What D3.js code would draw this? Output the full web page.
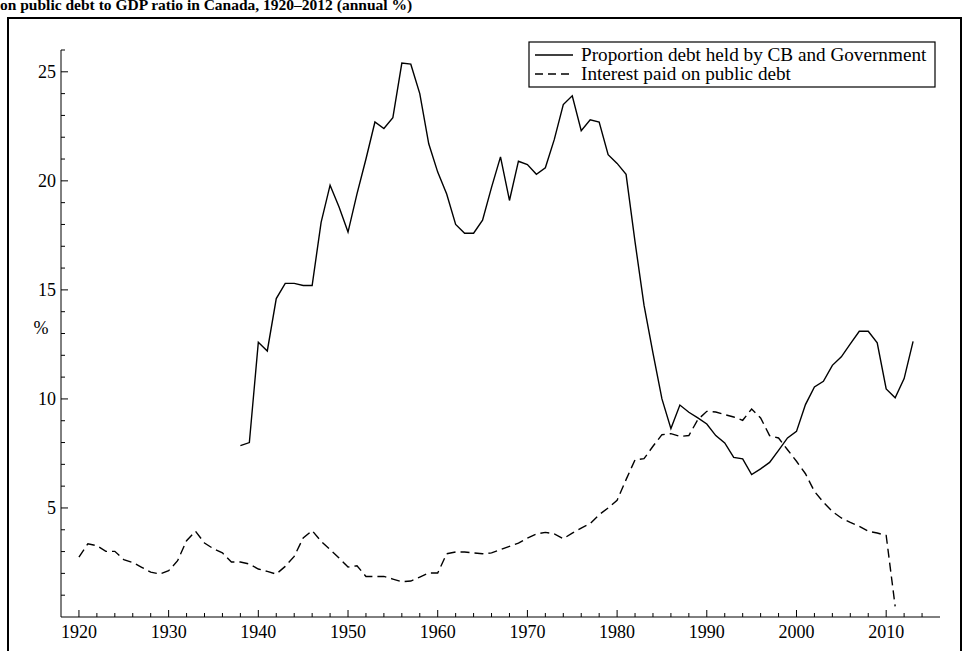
<!DOCTYPE html>
<html>
<head>
<meta charset="utf-8">
<script src="https://cdn.jsdelivr.net/npm/d3@7"></script>
<style>
  html, body { margin: 0; padding: 0; background: #fff; }
  svg { display: block; font-family: "Liberation Serif", "Times New Roman", serif; }
</style>
</head>
<body>
<script>
var titleText = "on public debt to GDP ratio in Canada, 1920\u20132012 (annual %)";
var legendLabels = ["Proportion debt held by CB and Government", "Interest paid on public debt"];
var yLabel = "%";

var heldYears = d3.range(1938, 2014);
var heldValues = [7.86, 8.0, 12.6, 12.2, 14.6, 15.3, 15.3, 15.2, 15.2, 18.1,
    19.8, 18.8, 17.65, 19.4, 21.0, 22.7, 22.4, 22.9, 25.4, 25.35,
    24.0, 21.7, 20.4, 19.4, 18.0, 17.6, 17.6, 18.2, 19.7, 21.1,
    19.1, 20.9, 20.75, 20.3, 20.6, 21.9, 23.5, 23.9, 22.3, 22.8,
    22.7, 21.2, 20.8, 20.3, 17.2, 14.3, 12.1, 10.0, 8.64, 9.72,
    9.39, 9.13, 8.85, 8.32, 7.98, 7.32, 7.25, 6.53, 6.79, 7.09,
    7.64, 8.21, 8.51, 9.74, 10.55, 10.81, 11.54, 11.93, 12.52, 13.1,
    13.1, 12.57, 10.46, 10.05, 10.93, 12.64];

var interestYears = d3.range(1920, 2012);
var interestValues = [2.75, 3.36, 3.27, 3.01, 3.01, 2.63, 2.5, 2.28, 2.06, 1.97,
    2.12, 2.58, 3.5, 3.93, 3.39, 3.13, 2.94, 2.52, 2.52, 2.43,
    2.2, 2.09, 1.97, 2.32, 2.78, 3.62, 3.96, 3.47, 3.09, 2.71,
    2.29, 2.35, 1.86, 1.86, 1.86, 1.74, 1.62, 1.65, 1.83, 2.02,
    2.02, 2.9, 2.98, 2.98, 2.94, 2.9, 2.94, 3.09, 3.24, 3.39,
    3.62, 3.81, 3.88, 3.81, 3.59, 3.85, 4.08, 4.28, 4.69, 5.0,
    5.35, 6.3, 7.21, 7.26, 7.83, 8.36, 8.41, 8.28, 8.32, 9.05,
    9.43, 9.4, 9.28, 9.17, 9.02, 9.54, 9.13, 8.32, 8.21, 7.67,
    7.14, 6.57, 5.76, 5.26, 4.84, 4.54, 4.34, 4.16, 3.93, 3.85,
    3.74, 0.49];

var xTicks = d3.range(1920, 2011, 10);
var yTicks = [5, 10, 15, 20, 25];

(() => {
    var w = 966, h = 651;

    var svg = d3.select("body").append("svg")
        .attr("width", w).attr("height", h);

    // title (first line falls above the page)
    svg.append("text").text(titleText)
        .attr("x", 0).attr("y", 10)
        .attr("font-size", 15.5).attr("font-weight", "bold");

    // outer frame
    svg.append("rect")
        .attr("x", 8).attr("y", 18)
        .attr("width", 953).attr("height", 660)
        .attr("fill", "none").attr("stroke", "#000").attr("stroke-width", 2);

    var x = d3.scaleLinear().domain([1918, 2016]).range([61, 940]);
    var y = d3.scaleLinear().domain([0, 26]).range([617, 50]);

    var g = svg.append("g");

    // axis lines
    g.append("line").attr("x1", x(1918)).attr("x2", x(2016))
        .attr("y1", y(0)).attr("y2", y(0)).attr("stroke", "#000");
    g.append("line").attr("x1", x(1918)).attr("x2", x(1918))
        .attr("y1", y(0)).attr("y2", y(26)).attr("stroke", "#000");

    // x ticks, pointing inward
    g.selectAll(".xminor").data(d3.range(1920, 2016, 2)).enter()
        .append("line").attr("class", "xminor")
        .attr("x1", d => x(d)).attr("x2", d => x(d))
        .attr("y1", y(0)).attr("y2", d => y(0) - (d % 10 === 0 ? 7 : 4))
        .attr("stroke", "#000");
    g.selectAll(".xlab").data(xTicks).enter()
        .append("text").attr("class", "xlab").text(d => d)
        .attr("x", d => x(d)).attr("y", 638)
        .attr("text-anchor", "middle").attr("font-size", 18);

    // y ticks, pointing inward
    g.selectAll(".yminor").data(d3.range(1, 27)).enter()
        .append("line").attr("class", "yminor")
        .attr("x1", x(1918)).attr("x2", d => x(1918) + (d % 5 === 0 ? 7 : 4))
        .attr("y1", d => y(d)).attr("y2", d => y(d))
        .attr("stroke", "#000");
    g.selectAll(".ylab").data(yTicks).enter()
        .append("text").attr("class", "ylab").text(d => d)
        .attr("x", 56).attr("y", d => y(d) + 6)
        .attr("text-anchor", "end").attr("font-size", 18);

    g.append("text").text(yLabel)
        .attr("x", 41).attr("y", 334)
        .attr("text-anchor", "middle").attr("font-size", 18);

    var line = d3.line().x(d => x(d[0])).y(d => y(d[1]));

    g.append("path")
        .datum(d3.zip(heldYears, heldValues))
        .attr("d", line)
        .attr("fill", "none").attr("stroke", "#000").attr("stroke-width", 1.4);

    g.append("path")
        .datum(d3.zip(interestYears, interestValues))
        .attr("d", line)
        .attr("fill", "none").attr("stroke", "#000").attr("stroke-width", 1.4)
        .attr("stroke-dasharray", "9,5");

    // legend
    var lg = svg.append("g").attr("transform", "translate(529,42)");
    lg.append("rect").attr("width", 406).attr("height", 45)
        .attr("fill", "#fff").attr("stroke", "#000").attr("stroke-width", 1.2);
    legendLabels.forEach((lab, i) => {
        var ly = 13 + i * 19;
        lg.append("line").attr("x1", 6).attr("x2", 44)
            .attr("y1", ly).attr("y2", ly)
            .attr("stroke", "#000").attr("stroke-width", 1.4)
            .attr("stroke-dasharray", i === 1 ? "8,5" : null);
        lg.append("text").text(lab)
            .attr("x", 52).attr("y", ly + 6)
            .attr("font-size", 19.2);
    });
})()
</script>
</body>
</html>
